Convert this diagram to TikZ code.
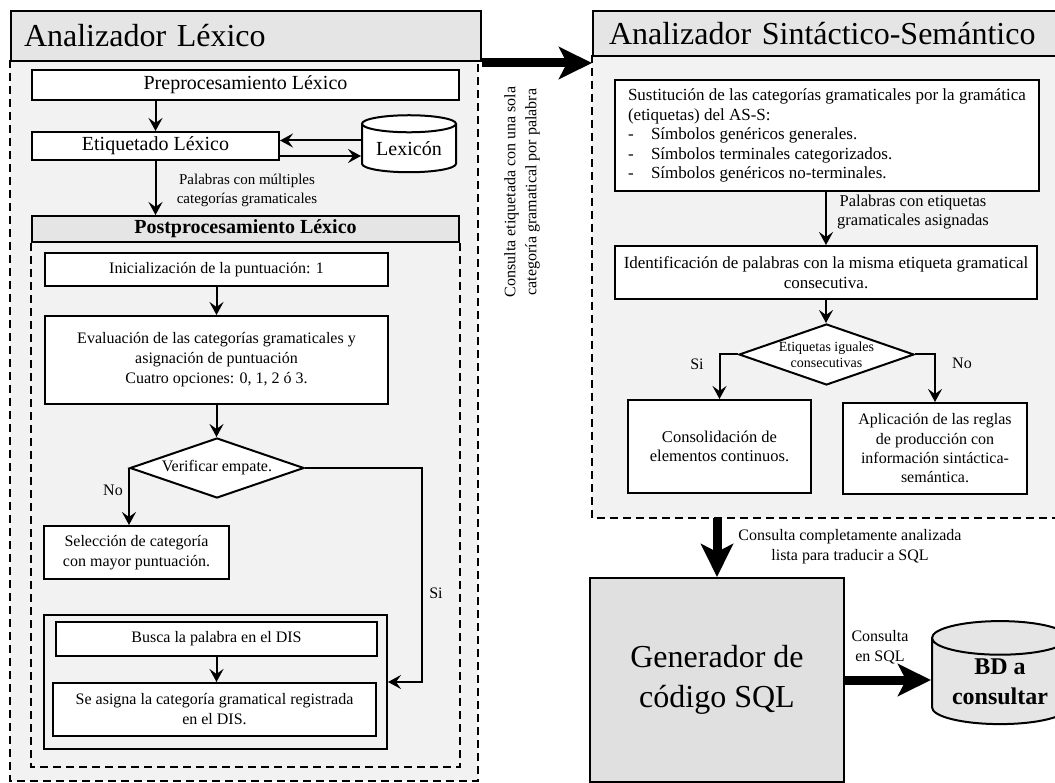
\documentclass[tikz,border=0pt]{standalone}
\usepackage{fontspec}
\setmainfont{Liberation Serif}
\usetikzlibrary{shapes.geometric,arrows.meta}

\newcommand{\fs}[2]{\fontsize{#1}{#2}\selectfont}

\begin{document}
\begin{tikzpicture}[x=1pt,y=-1pt,
  box/.style={draw,line width=2pt,fill=white,inner sep=0pt,align=center},
  cont/.style={line width=2pt,dash pattern=on 8pt off 5pt},
  decision/.style={draw,diamond,line width=2pt,fill=white,inner sep=-2pt,aspect=2.9,align=center},
  dbase/.style={draw,cylinder,shape border rotate=90,line width=2pt,inner sep=0pt,align=center},
  flow/.style={line width=2pt,-{Stealth[length=13pt,width=14pt,inset=5pt]}},
  big/.style={line width=9pt,-{Stealth[length=33pt,width=32pt,inset=8pt]}},
  lbl/.style={align=center,inner sep=0pt}]
\useasboundingbox[fill=white] (0,0) rectangle (1055,783);
% backgrounds of the two analizadores
\fill[black!5] (10,60) rectangle (478,781);
\fill[black!5] (592,55) rectangle (1062,518);
\draw[cont] (10,60) -- (10,781) -- (478,781) -- (478,60);
\draw[cont] (592,55) -- (592,518) -- (1062,518);
\node[box,fill=black!10,anchor=north west,minimum height=50,text width=444,inner xsep=13,align=left,font=\fs{32}{36}] (lexT) at (10,10) {Analizador Léxico};
\node[box,fill=black!10,anchor=north west,minimum height=45,text width=438,inner xsep=16,align=left,font=\fs{32}{36}] (synT) at (592,10) {Analizador Sintáctico-Semántico};
% lexico
\node[box,minimum width=427,minimum height=30,font=\fs{20}{24}] (pre) at (245.5,85) {Preprocesamiento Léxico};
\node[box,minimum width=247,minimum height=28,font=\fs{20}{24}] (etiq) at (155.5,146) {Etiquetado Léxico};
\node[dbase,fill=white,minimum width=94,minimum height=57,aspect=0.26,font=\fs{20}{24}] (lex) at (409,148.5) {Lexicón};
\draw[flow] (pre.south -| etiq.north) -- (etiq.north);
\draw[flow] ([yshift=8pt]lex.west) -- ([yshift=8pt]lex.west -| etiq.east);
\draw[flow] ([yshift=-10pt]etiq.east) -- ([yshift=-10pt]etiq.east -| lex.west);
\node[box,fill=black!10,minimum width=427,minimum height=26,font=\fs{20}{24}\bfseries] (post) at (245.5,229) {Postprocesamiento Léxico};
\draw[flow] (etiq.south) -- (etiq.south |- post.north);
\node[lbl,font=\fs{15}{19}] (lblMult) at (247,190) {Palabras con múltiples\\categorías gramaticales};
\draw[cont] (post.south west) -- ++(0,524) -| (post.south east);
\node[box,minimum width=343,minimum height=33,font=\fs{16}{20}] (ini) at (216.5,269.5) {Inicialización de la puntuación: 1};
\node[box,minimum width=343,minimum height=88,font=\fs{16}{20}] (eval) at (216.5,360) {Evaluación de las categorías gramaticales y\\asignación de puntuación\\Cuatro opciones: 0, 1, 2 ó 3.};
\node[decision,minimum width=174,minimum height=60,font=\fs{16}{20}] (emp) at (217,468) {Verificar empate.};
\node[box,minimum width=185,minimum height=53,font=\fs{16}{20}] (sel) at (136.5,552.5) {Selección de categoría\\con mayor puntuación.};
\node[draw,line width=2pt,minimum width=343,minimum height=134] (dis) at (215.5,682) {};
\node[box,minimum width=321,minimum height=34,font=\fs{16}{20}] (busca) at (216.5,639) {Busca la palabra en el DIS};
\node[box,minimum width=323,minimum height=53,font=\fs{16}{20}] (asig) at (214.5,709.5) {Se asigna la categoría gramatical registrada\\en el DIS.};
\draw[flow] (ini.south) -- (eval.north);
\draw[flow] (eval.south) -- (eval.south |- emp.north);
\draw[flow] (emp.west) -- (emp.west |- sel.north);
\draw[flow] (emp.east) -- ++(117,0) |- (dis.east);
\draw[flow] (busca.south) -- (busca.south |- asig.north);
\node[lbl,font=\fs{16}{20}] (lblNo) at (113,490) {No};
\node[lbl,font=\fs{16}{20}] (lblSi) at (436,593) {Si};
% paso al sintactico
\draw[big] ([yshift=-1pt]lexT.south east) -- ([yshift=-1pt]lexT.south east -| synT.south west);
\node[lbl,rotate=90,font=\fs{16}{21}] (lblCons) at (522,192) {Consulta etiquetada con una sola\\categoría gramatical por palabra};
% sintactico-semantico
\node[box,minimum width=424,minimum height=111,align=left,font=\fs{17}{19.5}] (sust) at (827,135.5) {Sustitución de las categorías gramaticales por la gramática\\(etiquetas) del AS-S:\\\makebox[23pt][l]{-}Símbolos genéricos generales.\\\makebox[23pt][l]{-}Símbolos terminales categorizados.\\\makebox[23pt][l]{-}Símbolos genéricos no-terminales.};
\node[box,minimum width=422,minimum height=53,font=\fs{17}{20}] (ident) at (826,272.5) {Identificación de palabras con la misma etiqueta gramatical\\consecutiva.};
\draw[flow] (sust.south -| ident.north) -- (ident.north);
\node[lbl,font=\fs{16.5}{19}] (lblAsig) at (913,212) {Palabras con etiquetas\\gramaticales asignadas};
\node[decision,minimum width=175,minimum height=61,font=\fs{14}{16}] (igual) at (826.5,354.5) {Etiquetas iguales\\consecutivas};
\node[box,minimum width=183,minimum height=93,font=\fs{16.5}{19}] (consol) at (719.5,446.5) {Consolidación de\\elementos continuos.};
\node[box,minimum width=184,minimum height=91,font=\fs{16}{19.3}] (aplic) at (935,448.5) {Aplicación de las reglas\\de producción con\\información sintáctica-\\semántica.};
\draw[flow] (ident.south) -- (ident.south |- igual.north);
\draw[flow] (igual.west) -| (consol.north);
\draw[flow] (igual.east) -| (aplic.north);
\node[lbl,font=\fs{16}{20}] (lblSi2) at (697,364) {Si};
\node[lbl,font=\fs{16}{20}] (lblNo2) at (962,363) {No};
% generador
\node[box,fill=black!12,minimum width=254,minimum height=204,font=\fs{32}{40}] (gen) at (717,680) {Generador de\\código SQL};
\coordinate (synB) at (717,518);
\draw[big] (synB) -- (gen.north);
\node[lbl,font=\fs{16}{20}] (lblSQL) at (850,547) {Consulta completamente analizada\\lista para traducir a SQL};
\node[dbase,fill=black!10,minimum width=136,minimum height=103,aspect=0.35,font=\fs{24}{30}\bfseries] (bd) at (1000,681.5) {BD a\\consultar};
\draw[big] (gen.east) -- (gen.east -| bd.west);
\node[lbl,font=\fs{16}{20}] (lblEnSQL) at (880,647) {Consulta\\en SQL};
\end{tikzpicture}
\end{document}
